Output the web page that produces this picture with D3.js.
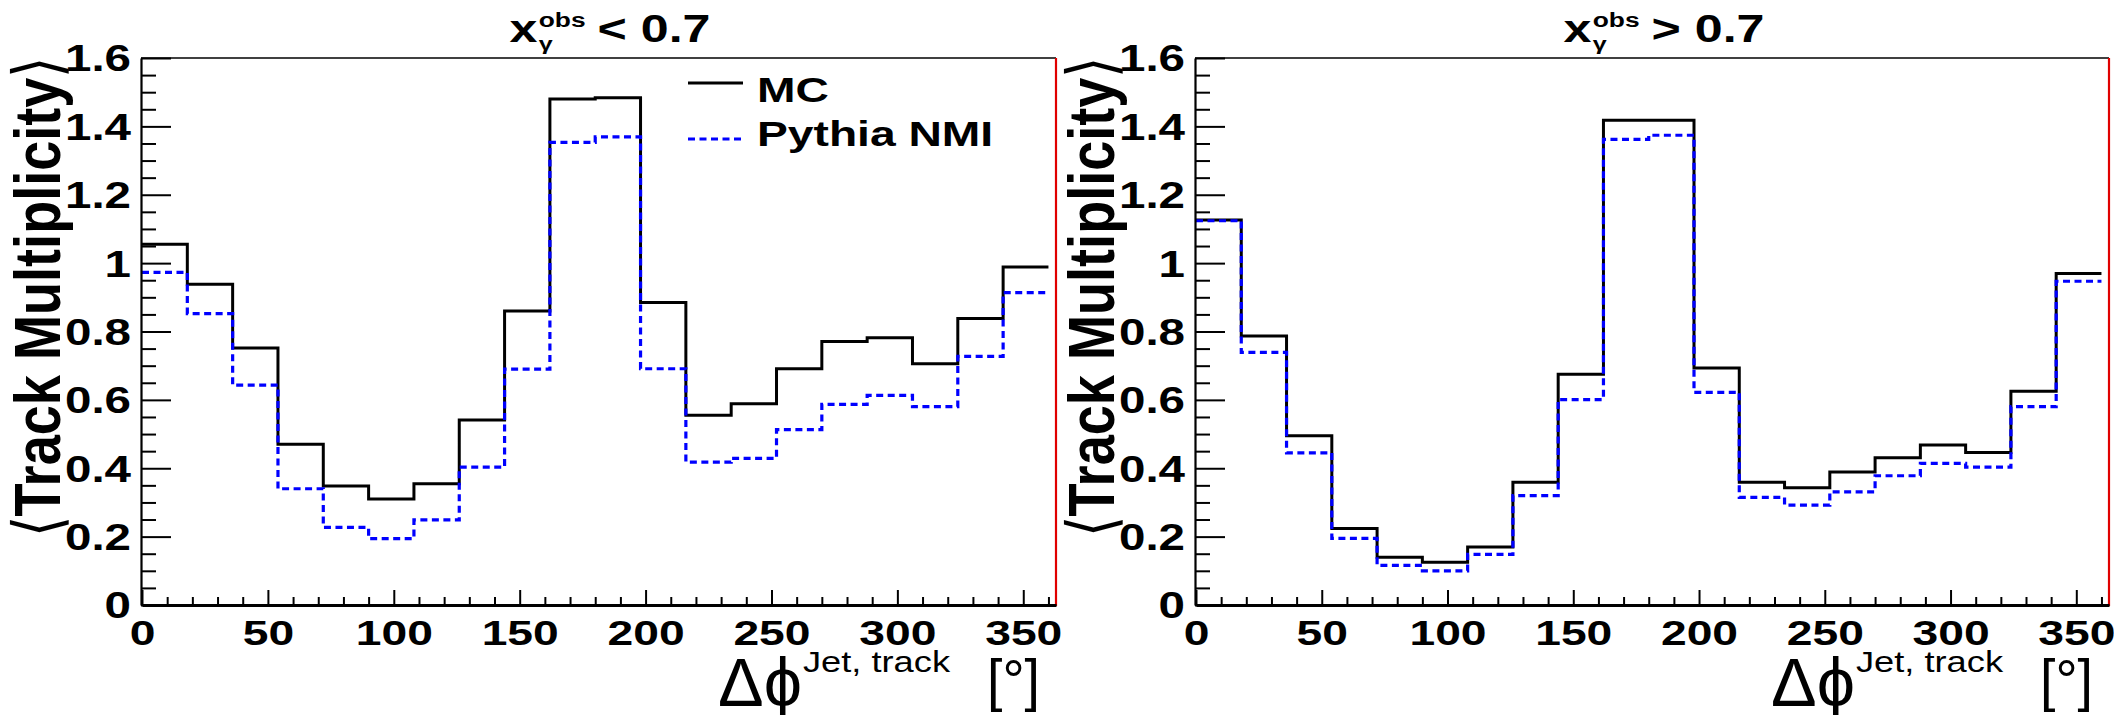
<!DOCTYPE html>
<html><head><meta charset="utf-8">
<script src="https://cdn.jsdelivr.net/npm/d3@7/dist/d3.min.js"></script>
<style>html,body{margin:0;padding:0;background:#fff;} svg{display:block;} text{white-space:pre;}</style>
</head><body>
<svg id="chart" width="2114" height="715"></svg>
<script>
// ---------------- data ----------------
const binEdges = [0,18,36,54,72,90,108,126,144,162,180,198,216,234,252,270,288,306,324,342,360];
const mcLow  = [1.055,0.938,0.752,0.470,0.348,0.310,0.355,0.541,0.860,1.480,1.484,0.885,0.555,0.589,0.691,0.771,0.782,0.706,0.838,0.989];
const pyLow  = [0.973,0.852,0.643,0.340,0.227,0.194,0.249,0.403,0.690,1.353,1.369,0.691,0.418,0.429,0.513,0.587,0.613,0.580,0.727,0.914];
const mcHigh = [1.126,0.787,0.495,0.224,0.140,0.125,0.170,0.359,0.675,1.418,1.418,0.693,0.359,0.343,0.389,0.431,0.468,0.446,0.625,0.970];
const pyHigh = [1.124,0.739,0.445,0.195,0.116,0.100,0.148,0.320,0.601,1.362,1.374,0.622,0.315,0.292,0.331,0.378,0.414,0.403,0.580,0.947];

const xTicks = [0,50,100,150,200,250,300,350];
const xTickLabels = ["0","50","100","150","200","250","300","350"];
const xMinorTicks = [10,20,30,40,60,70,80,90,110,120,130,140,160,170,180,190,210,220,230,240,260,270,280,290,310,320,330,340,360];
const yTicks = [0,0.2,0.4,0.6,0.8,1.0,1.2,1.4,1.6];
const yTickLabels = ["0","0.2","0.4","0.6","0.8","1","1.2","1.4","1.6"];
const yMinorTicks = [0.05,0.1,0.15,0.25,0.3,0.35,0.45,0.5,0.55,0.65,0.7,0.75,0.85,0.9,0.95,1.05,1.1,1.15,1.25,1.3,1.35,1.45,1.5,1.55];
const titleOps = ["<", ">"];
const titleCut = "0.7";
const legendLabels = ["MC", "Pythia NMI"];
const yAxisTitle = "Track Multiplicity";
const xAxisMain = "\u0394\u03D5";
const xAxisSup = "Jet, track";
const xAxisUnit = "[\u00B0]";

// ---------------- layout ----------------
const svg = d3.select("#chart");
const TOP = 58, BOTTOM = 605;
const SX = 1.32;
const FONT = "'Liberation Sans', Arial, Helvetica, sans-serif";
const panels = [
  {left: 141, right: 1056, mc: mcLow, py: pyLow, op: titleOps[0], legend: true},
  {left: 1195, right: 2109, mc: mcHigh, py: pyHigh, op: titleOps[1], legend: false}
];

function stretch(sel, f) {
  sel.each(function() {
    const w = this.getComputedTextLength();
    d3.select(this).attr("textLength", w * f).attr("lengthAdjust", "spacingAndGlyphs");
  });
}

panels.forEach(p => {
  const g = svg.append("g");
  const x = d3.scaleLinear().domain([0, 363]).range([p.left + 1, p.right]);
  const y = d3.scaleLinear().domain([0, 1.6]).range([BOTTOM, TOP]);

  // frame top + red right edge
  g.append("line").attr("x1", p.left).attr("x2", p.right).attr("y1", TOP).attr("y2", TOP)
    .attr("stroke", "#000").attr("stroke-width", 1.5);
  g.append("line").attr("x1", p.right).attr("x2", p.right).attr("y1", TOP).attr("y2", BOTTOM + 1)
    .attr("stroke", "#e00000").attr("stroke-width", 2.2);

  // histograms
  const pts = arr => binEdges.map((e, i) => [e, i < arr.length ? arr[i] : arr[arr.length - 1]]);
  const line = d3.line().x(d => x(d[0])).y(d => y(d[1])).curve(d3.curveStepAfter);
  g.append("path").attr("d", line(pts(p.mc))).attr("fill", "none")
    .attr("stroke", "#000").attr("stroke-width", 3);
  g.append("path").attr("d", line(pts(p.py))).attr("fill", "none")
    .attr("stroke", "#0000ff").attr("stroke-width", 3.2).attr("stroke-dasharray", "7 4.5");

  // y axis (minor then major)
  const yMinor = g.append("g").attr("transform", `translate(${p.left},0)`)
    .call(d3.axisLeft(y).tickValues(yMinorTicks).tickSize(-15).tickSizeOuter(0).tickFormat(""));
  yMinor.select(".domain").remove();
  yMinor.selectAll("line").attr("stroke-width", 2);
  const yMajor = g.append("g").attr("transform", `translate(${p.left},0)`)
    .call(d3.axisLeft(y).tickValues(yTicks).tickSize(-30).tickSizeOuter(0).tickPadding(10)
      .tickFormat((d, i) => yTickLabels[i]));
  yMajor.select(".domain").attr("stroke-width", 2.2);
  yMajor.selectAll("line").attr("stroke-width", 2);
  yMajor.selectAll("text").attr("font-family", FONT).attr("font-weight", "bold")
    .attr("font-size", 36).attr("fill", "#000").attr("dy", "0.36em").call(stretch, SX);

  // x axis
  const xMinor = g.append("g").attr("transform", `translate(0,${BOTTOM})`)
    .call(d3.axisBottom(x).tickValues(xMinorTicks).tickSize(-8).tickSizeOuter(0).tickFormat(""));
  xMinor.select(".domain").remove();
  xMinor.selectAll("line").attr("stroke-width", 2);
  const xMajor = g.append("g").attr("transform", `translate(0,${BOTTOM})`)
    .call(d3.axisBottom(x).tickValues(xTicks).tickSize(-15).tickSizeOuter(0)
      .tickFormat((d, i) => xTickLabels[i]));
  xMajor.select(".domain").attr("stroke-width", 3);
  xMajor.selectAll("line").attr("stroke-width", 2);
  xMajor.selectAll("text").attr("font-family", FONT).attr("font-weight", "bold")
    .attr("font-size", 35).attr("fill", "#000").attr("y", 40).attr("dy", null).call(stretch, SX);

  // y axis title (rotated, stretched)
  const yt = g.append("text")
    .attr("transform", `translate(${p.left - 81},297) scale(1.26,1) rotate(-90)`)
    .attr("text-anchor", "middle").attr("font-family", FONT).attr("font-size", 52)
    .attr("font-weight", "bold").attr("fill", "#000");
  yt.append("tspan").attr("font-family", "'DejaVu Sans', sans-serif").attr("font-weight", "200").text("\u27E8");
  yt.append("tspan").text(yAxisTitle);
  yt.append("tspan").attr("font-family", "'DejaVu Sans', sans-serif").attr("font-weight", "200").text("\u27E9");
  yt.attr("textLength", 481).attr("lengthAdjust", "spacingAndGlyphs");

  // x axis title
  const xr = p.right;
  g.append("text").attr("x", xr - 338).attr("y", 706).attr("font-family", FONT)
    .attr("font-size", 68).attr("fill", "#000").text(xAxisMain)
    .attr("textLength", 84).attr("lengthAdjust", "spacingAndGlyphs");
  g.append("text").attr("x", xr - 253).attr("y", 672).attr("font-family", FONT)
    .attr("font-size", 30).attr("fill", "#000").text(xAxisSup)
    .attr("textLength", 147).attr("lengthAdjust", "spacingAndGlyphs");
  g.append("text").attr("x", xr - 69).attr("y", 700).attr("font-family", FONT)
    .attr("font-size", 58).attr("fill", "#000").text(xAxisUnit)
    .attr("textLength", 53).attr("lengthAdjust", "spacingAndGlyphs");

  // title: x_gamma^obs <op> 0.7
  const tg = g.append("g");
  const t1 = tg.append("text").attr("x", 0).attr("y", 0).attr("font-family", FONT)
    .attr("font-weight", "bold").attr("font-size", 38).attr("fill", "#000").text("x");
  const w1 = t1.node().getComputedTextLength();
  const tsup = tg.append("text").attr("x", w1 + 1).attr("y", -15).attr("font-family", FONT)
    .attr("font-weight", "bold").attr("font-size", 20).attr("fill", "#000").text("obs");
  const tsub = tg.append("text").attr("x", w1 + 1).attr("y", 8).attr("font-family", FONT)
    .attr("font-weight", "bold").attr("font-size", 19).attr("fill", "#000").text("\u03B3");
  const ws = Math.max(tsup.node().getComputedTextLength(), tsub.node().getComputedTextLength());
  const t2 = tg.append("text").attr("x", w1 + ws + 10).attr("y", 0).attr("font-family", FONT)
    .attr("font-weight", "bold").attr("font-size", 38).attr("fill", "#000")
    .text(p.op + " " + titleCut);
  const W = w1 + ws + 10 + t2.node().getComputedTextLength();
  tg.attr("transform", `translate(${p.left + 469 - W * SX / 2},42) scale(${SX},1)`);

  // legend
  if (p.legend) {
    const lx = p.left + 547, lw = 55;
    const rows = [{y: 83, stroke: "#000", dash: null}, {y: 139, stroke: "#0000ff", dash: "7 4.5"}];
    rows.forEach((r, i) => {
      g.append("line").attr("x1", lx).attr("x2", lx + lw).attr("y1", r.y).attr("y2", r.y)
        .attr("stroke", r.stroke).attr("stroke-width", 3).attr("stroke-dasharray", r.dash);
      g.append("text").attr("x", p.left + 616).attr("y", r.y + (i === 0 ? 19 : 7))
        .attr("font-family", FONT).attr("font-weight", "bold").attr("font-size", 35)
        .attr("fill", "#000").text(legendLabels[i]).call(stretch, SX);
    });
  }
});
</script>
</body></html>
